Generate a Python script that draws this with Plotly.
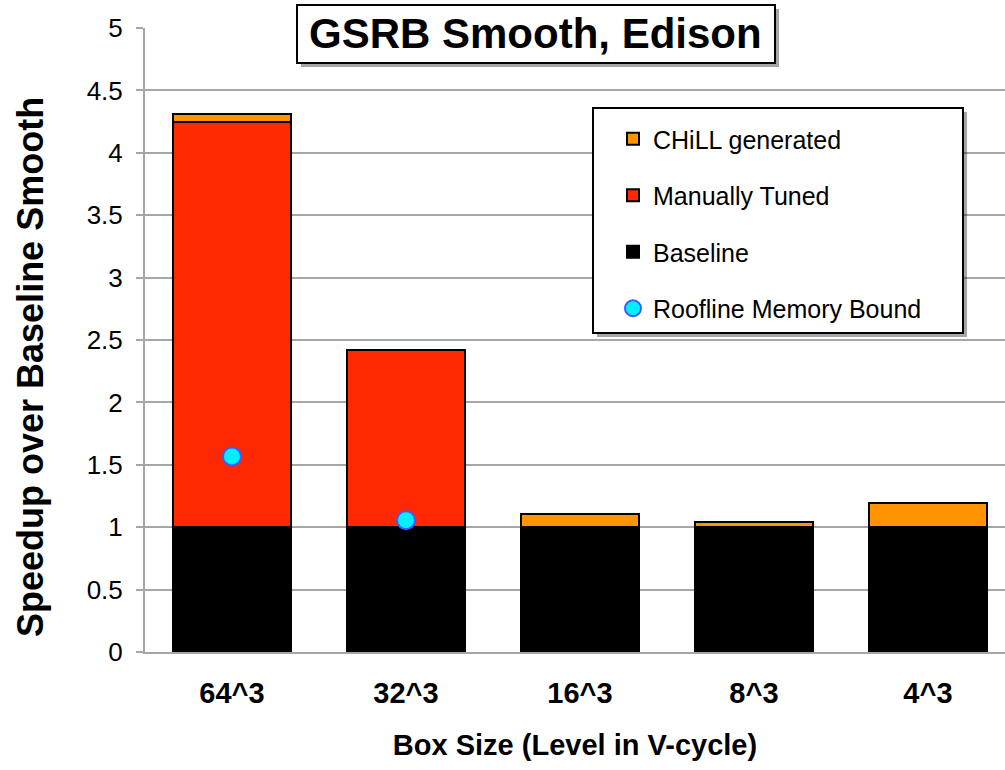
import plotly.graph_objects as go

# Box sizes along the V-cycle
categories = ["64^3", "32^3", "16^3", "8^3", "4^3"]

# Stacked speedup segments (baseline smooth = 1.0)
baseline = [1.0, 1.0, 1.0, 1.0, 1.0]
manually_tuned = [3.245, 1.416, 0.0, 0.0, 0.0]
chill_generated = [0.062, 0.0, 0.107, 0.04, 0.195]

# Roofline memory-bound prediction (only for the two largest boxes)
roofline_x = ["64^3", "32^3"]
roofline_y = [1.567, 1.056]

FONT = "Arial, Liberation Sans, sans-serif"
W, H = 1005, 770
L, R, T, B = 145, 0, 28, 118
PW, PH = W - L - R, H - T - B


def px(x):
    return (x - L) / PW


def py(y):
    return (H - B - y) / PH


fig = go.Figure()

fig.add_trace(go.Bar(
    x=categories, y=baseline, name="Baseline",
    marker=dict(color="#000000", line=dict(color="#000000", width=2)),
    legendgroup="g3", legendrank=3,
))
fig.add_trace(go.Bar(
    x=categories, y=manually_tuned, name="Manually Tuned",
    marker=dict(color="#FF2800", line=dict(color="#000000", width=2)),
    legendgroup="g2", legendrank=2,
))
fig.add_trace(go.Bar(
    x=categories, y=chill_generated, name="CHiLL generated",
    marker=dict(color="#FF9400", line=dict(color="#000000", width=2)),
    legendgroup="g1", legendrank=1,
))
fig.add_trace(go.Scatter(
    x=roofline_x, y=roofline_y, name="Roofline Memory Bound",
    mode="markers",
    marker=dict(symbol="circle", size=18, color="#00F0FF",
                line=dict(color="#3A5BFF", width=2)),
    legendgroup="g4", legendrank=4,
))

shapes = [
    # title box shadow + box
    dict(type="rect", xref="paper", yref="paper",
         x0=px(301), x1=px(779), y0=py(9), y1=py(67),
         fillcolor="rgba(0,0,0,0.35)", line=dict(width=0), layer="above"),
    dict(type="rect", xref="paper", yref="paper",
         x0=px(297), x1=px(775), y0=py(5), y1=py(63),
         fillcolor="white", line=dict(color="black", width=2), layer="above"),
    # legend box shadow + box
    dict(type="rect", xref="paper", yref="paper",
         x0=px(597), x1=px(967), y0=py(112), y1=py(337),
         fillcolor="rgba(0,0,0,0.35)", line=dict(width=0), layer="above"),
    dict(type="rect", xref="paper", yref="paper",
         x0=px(593), x1=px(963), y0=py(108), y1=py(333),
         fillcolor="white", line=dict(color="black", width=2), layer="above"),
]

fig.update_layout(
    width=W, height=H,
    margin=dict(l=L, r=R, t=T, b=B, pad=0),
    paper_bgcolor="white", plot_bgcolor="white",
    barmode="stack", bargap=0.32,
    font=dict(family=FONT, color="black"),
    showlegend=True,
    legend=dict(
        x=px(613), y=py(116), xanchor="left", yanchor="top",
        bgcolor="rgba(0,0,0,0)", borderwidth=0,
        font=dict(size=25, family=FONT, color="black"),
        traceorder="grouped", tracegroupgap=21,
        itemwidth=30,
    ),
    shapes=shapes,
    annotations=[
        dict(
            xref="paper", yref="paper", x=px(535), y=py(34),
            xanchor="center", yanchor="middle", showarrow=False,
            text="<b>GSRB Smooth, Edison</b>",
            font=dict(size=42, family=FONT, color="black"),
        ),
        dict(
            xref="paper", yref="paper", x=px(30), y=py(367),
            xanchor="center", yanchor="middle", showarrow=False,
            textangle=-90,
            text="<b>Speedup over Baseline Smooth</b>",
            font=dict(size=36, family=FONT, color="black"),
        ),
    ],
)

fig.update_xaxes(
    range=[-0.5, 4.443],
    showline=True, linecolor="#A6A6A6", linewidth=2,
    showgrid=False, ticks="",
    tickfont=dict(size=29, family=FONT, color="black"),
    tickprefix="<b>", ticksuffix="</b>",
    ticklabelstandoff=14,
    title=dict(text="<b>Box Size (Level in V-cycle)</b>",
               font=dict(size=29, family=FONT, color="black"), standoff=27),
)
fig.update_yaxes(
    range=[0, 5], dtick=0.5,
    showline=True, linecolor="#A6A6A6", linewidth=2,
    showgrid=True, gridcolor="#A6A6A6", gridwidth=2,
    zeroline=False,
    ticks="outside", ticklen=7, tickwidth=2, tickcolor="#A6A6A6",
    tickfont=dict(size=26, family=FONT, color="black"),
    ticklabelstandoff=8,
)

fig.write_html("out.html")
